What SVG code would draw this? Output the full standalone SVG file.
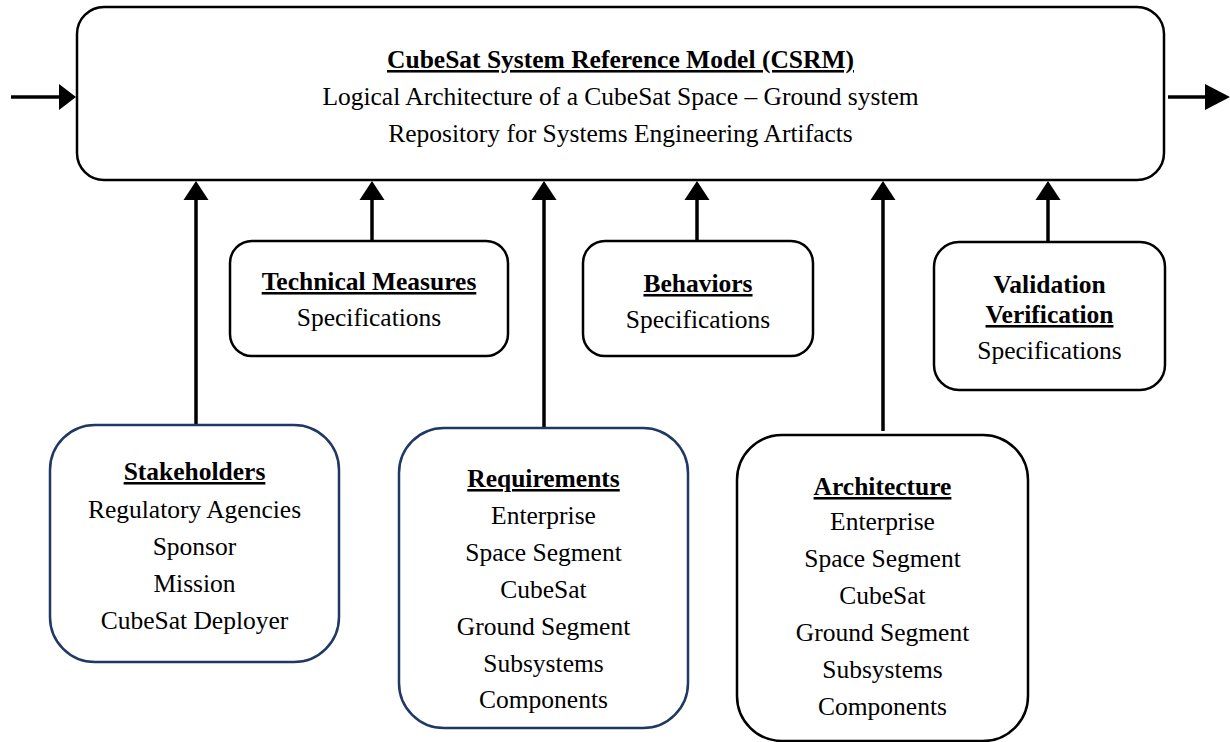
<svg xmlns="http://www.w3.org/2000/svg" width="1230" height="742" viewBox="0 0 1230 742">
  <style>
    text { font-family: "Liberation Serif", "Times New Roman", serif; font-size: 25.5px; fill: #000; text-anchor: middle; }
    .h { font-weight: bold; text-decoration: underline; }
    .hb { font-weight: bold; }
    .box { fill: #fff; stroke: #000; stroke-width: 2.5; }
    .navy { stroke: #1f3864; }
    .wire { stroke: #000; stroke-width: 3.5; fill: none; }
    .head { fill: #000; }
  </style>

  <rect width="1230" height="742" fill="#fff"/>

  <!-- connectors -->
  <g id="connectors">
    <!-- input / output of the reference model -->
    <line class="wire" x1="11" y1="97" x2="62" y2="97"/>
    <polygon class="head" points="76,97 59,84 59,110"/>
    <line class="wire" x1="1168" y1="97" x2="1208" y2="97"/>
    <polygon class="head" points="1230,97 1205,84 1205,110"/>

    <!-- contributions up into the model -->
    <line class="wire" x1="196" y1="198" x2="196" y2="427"/>
    <polygon class="head" points="196,181 183.5,200 208.5,200"/>
    <line class="wire" x1="372" y1="198" x2="372" y2="241"/>
    <polygon class="head" points="372,181 359.5,200 384.5,200"/>
    <line class="wire" x1="544" y1="198" x2="544" y2="430"/>
    <polygon class="head" points="544,181 531.5,200 556.5,200"/>
    <line class="wire" x1="697" y1="198" x2="697" y2="241"/>
    <polygon class="head" points="697,181 684.5,200 709.5,200"/>
    <line class="wire" x1="883" y1="198" x2="883" y2="431"/>
    <polygon class="head" points="883,181 870.5,200 895.5,200"/>
    <line class="wire" x1="1048" y1="198" x2="1048" y2="241"/>
    <polygon class="head" points="1048,181 1035.5,200 1060.5,200"/>
  </g>

  <g id="csrm">
    <rect class="box" x="77" y="7" width="1087" height="173" rx="27"/>
    <text class="h" x="620.5" y="68">CubeSat System Reference Model (CSRM)</text>
    <text x="620.5" y="105">Logical Architecture of a CubeSat Space – Ground system</text>
    <text x="620.5" y="142">Repository for Systems Engineering Artifacts</text>
  </g>

  <g id="technical-measures">
    <rect class="box" x="230" y="241" width="278" height="115" rx="22"/>
    <text class="h" x="369" y="290">Technical Measures</text>
    <text x="369" y="326">Specifications</text>
  </g>

  <g id="behaviors">
    <rect class="box" x="583" y="241" width="230" height="115" rx="22"/>
    <text class="h" x="698" y="292">Behaviors</text>
    <text x="698" y="328">Specifications</text>
  </g>

  <g id="validation-verification">
    <rect class="box" x="934" y="242" width="231" height="148" rx="25"/>
    <text class="hb" x="1049.5" y="293">Validation</text>
    <text class="h" x="1049.5" y="323">Verification</text>
    <text x="1049.5" y="359">Specifications</text>
  </g>

  <g id="stakeholders">
    <rect class="box navy" x="50" y="425" width="289" height="237" rx="45"/>
    <text class="h" x="194.5" y="480">Stakeholders</text>
    <text x="194.5" y="518">Regulatory Agencies</text>
    <text x="194.5" y="555">Sponsor</text>
    <text x="194.5" y="592">Mission</text>
    <text x="194.5" y="629">CubeSat Deployer</text>
  </g>

  <g id="requirements">
    <rect class="box navy" x="399" y="428" width="289" height="300" rx="45"/>
    <text class="h" x="543.5" y="487">Requirements</text>
    <text x="543.5" y="524">Enterprise</text>
    <text x="543.5" y="561">Space Segment</text>
    <text x="543.5" y="598">CubeSat</text>
    <text x="543.5" y="635">Ground Segment</text>
    <text x="543.5" y="672">Subsystems</text>
    <text x="543.5" y="708">Components</text>
  </g>

  <g id="architecture">
    <rect class="box" x="737" y="435" width="291" height="306" rx="45"/>
    <text class="h" x="882.5" y="495">Architecture</text>
    <text x="882.5" y="530">Enterprise</text>
    <text x="882.5" y="567">Space Segment</text>
    <text x="882.5" y="604">CubeSat</text>
    <text x="882.5" y="641">Ground Segment</text>
    <text x="882.5" y="678">Subsystems</text>
    <text x="882.5" y="715">Components</text>
  </g>
</svg>
